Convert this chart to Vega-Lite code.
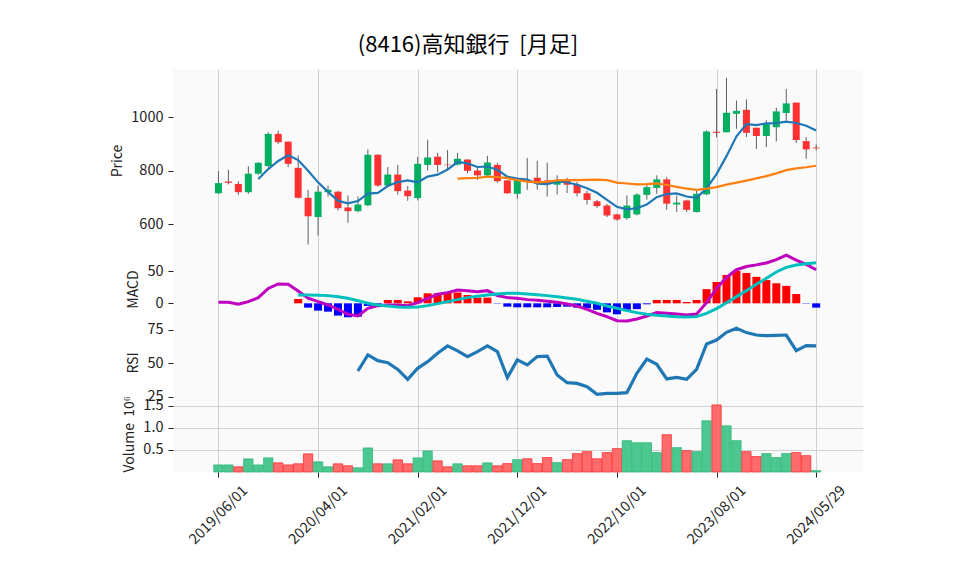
{
 "$schema": "https://vega.github.io/schema/vega-lite/v6.json",
 "width": 690,
 "height": 403,
 "autosize": {"type": "none"},
 "padding": {"left": 173, "top": 69, "right": 95, "bottom": 103},
 "background": "#ffffff",
 "title": {"text": "(8416)高知銀行\u00a0\u00a0[月足]", "fontSize": 22, "fontWeight": "normal", "font": "Noto Sans CJK JP", "color": "#000000", "frame": "group", "anchor": "middle", "dx": -50, "offset": 12},
 "config": {
  "font": "Noto Sans CJK JP",
  "view": {"fill": "#fafafa", "stroke": null},
  "axis": {"domain": false, "grid": true, "gridColor": "#d0d0d0", "gridWidth": 1, "tickColor": "#222222", "tickSize": 5, "labelPadding": 5, "labelFontSize": 14.5, "labelColor": "#222222", "titleFontSize": 14, "titleFontWeight": "normal", "titleColor": "#222222", "titlePadding": 6, "labelFont": "Noto Sans CJK JP", "titleFont": "Noto Sans CJK JP"}
 },
 "data": {"values": [
  {"i":0,"date":"2019/06/01","o":716,"h":799,"l":714,"c":754,"vol":160000,"vdir":"up","ma5":null,"ma25":null,"macd":1.5,"sig":null,"hist":null,"rsi":null},
  {"i":1,"date":"2019/07/01","o":760,"h":804,"l":749,"c":755,"vol":160000,"vdir":"up","ma5":null,"ma25":null,"macd":1.5,"sig":null,"hist":null,"rsi":null},
  {"i":2,"date":"2019/08/01","o":751,"h":761,"l":710,"c":720,"vol":117000,"vdir":"down","ma5":null,"ma25":null,"macd":-1.5,"sig":null,"hist":null,"rsi":null},
  {"i":3,"date":"2019/09/01","o":720,"h":817,"l":714,"c":789,"vol":297000,"vdir":"up","ma5":null,"ma25":null,"macd":2.6,"sig":null,"hist":null,"rsi":null},
  {"i":4,"date":"2019/10/01","o":789,"h":832,"l":785,"c":830,"vol":160000,"vdir":"up","ma5":769.6,"ma25":null,"macd":8.8,"sig":null,"hist":null,"rsi":null},
  {"i":5,"date":"2019/11/01","o":818,"h":944,"l":812,"c":938,"vol":320000,"vdir":"up","ma5":806.4,"ma25":null,"macd":23,"sig":null,"hist":null,"rsi":null},
  {"i":6,"date":"2019/12/01","o":938,"h":950,"l":900,"c":907,"vol":207000,"vdir":"down","ma5":836.8,"ma25":null,"macd":30,"sig":null,"hist":null,"rsi":null},
  {"i":7,"date":"2020/01/01","o":909,"h":910,"l":814,"c":826,"vol":160000,"vdir":"down","ma5":858,"ma25":null,"macd":29.4,"sig":null,"hist":null,"rsi":null},
  {"i":8,"date":"2020/02/01","o":811,"h":857,"l":696,"c":699,"vol":185000,"vdir":"down","ma5":840,"ma25":null,"macd":19,"sig":12.9,"hist":6.7,"rsi":null},
  {"i":9,"date":"2020/03/01","o":699,"h":729,"l":524,"c":630,"vol":410000,"vdir":"down","ma5":800,"ma25":null,"macd":8,"sig":12.9,"hist":-6.7,"rsi":null},
  {"i":10,"date":"2020/04/01","o":627,"h":745,"l":558,"c":722,"vol":230000,"vdir":"up","ma5":756.8,"ma25":null,"macd":2.6,"sig":12.4,"hist":-11.3,"rsi":null},
  {"i":11,"date":"2020/05/01","o":720,"h":745,"l":703,"c":729,"vol":117000,"vdir":"up","ma5":721.2,"ma25":null,"macd":-2.6,"sig":11.9,"hist":-12.9,"rsi":null},
  {"i":12,"date":"2020/06/01","o":722,"h":725,"l":651,"c":660,"vol":185000,"vdir":"down","ma5":688,"ma25":null,"macd":-9.3,"sig":10.3,"hist":-19,"rsi":null},
  {"i":13,"date":"2020/07/01","o":663,"h":708,"l":606,"c":649,"vol":140000,"vdir":"down","ma5":678,"ma25":null,"macd":-17,"sig":7.7,"hist":-21.6,"rsi":null},
  {"i":14,"date":"2020/08/01","o":649,"h":704,"l":645,"c":674,"vol":95000,"vdir":"up","ma5":686.8,"ma25":null,"macd":-19.6,"sig":4.1,"hist":-20.6,"rsi":44.3},
  {"i":15,"date":"2020/09/01","o":671,"h":880,"l":668,"c":860,"vol":545000,"vdir":"up","ma5":714.4,"ma25":null,"macd":-7.7,"sig":0,"hist":-4,"rsi":56.2},
  {"i":16,"date":"2020/10/01","o":860,"h":862,"l":740,"c":745,"vol":185000,"vdir":"down","ma5":717.6,"ma25":null,"macd":-3.6,"sig":-2.6,"hist":-3,"rsi":52},
  {"i":17,"date":"2020/11/01","o":745,"h":814,"l":740,"c":786,"vol":185000,"vdir":"up","ma5":742.8,"ma25":null,"macd":-2.6,"sig":-4.1,"hist":5.2,"rsi":50.5},
  {"i":18,"date":"2020/12/01","o":786,"h":822,"l":711,"c":724,"vol":275000,"vdir":"down","ma5":757.8,"ma25":null,"macd":-2.6,"sig":-5.7,"hist":5.2,"rsi":45.5},
  {"i":19,"date":"2021/01/01","o":726,"h":743,"l":688,"c":705,"vol":185000,"vdir":"down","ma5":764,"ma25":null,"macd":-3.6,"sig":-6.2,"hist":3,"rsi":38.1},
  {"i":20,"date":"2021/02/01","o":698,"h":852,"l":689,"c":826,"vol":320000,"vdir":"up","ma5":757.2,"ma25":null,"macd":1,"sig":-5.7,"hist":9.3,"rsi":46.3},
  {"i":21,"date":"2021/03/01","o":822,"h":916,"l":801,"c":850,"vol":477000,"vdir":"up","ma5":778.2,"ma25":null,"macd":7.7,"sig":-3.6,"hist":15.5,"rsi":51.2},
  {"i":22,"date":"2021/04/01","o":853,"h":867,"l":795,"c":822,"vol":252000,"vdir":"down","ma5":785.4,"ma25":null,"macd":14,"sig":-0.5,"hist":15.5,"rsi":57.4},
  {"i":23,"date":"2021/05/01","o":823,"h":878,"l":801,"c":821,"vol":117000,"vdir":"down","ma5":804.8,"ma25":null,"macd":16.5,"sig":2.6,"hist":16.5,"rsi":62.9},
  {"i":24,"date":"2021/06/01","o":823,"h":867,"l":820,"c":845,"vol":185000,"vdir":"up","ma5":832.8,"ma25":770.6,"macd":20.6,"sig":5.7,"hist":16.8,"rsi":59.2},
  {"i":25,"date":"2021/07/01","o":842,"h":843,"l":791,"c":800,"vol":140000,"vdir":"down","ma5":827.6,"ma25":772.5,"macd":19.6,"sig":8.8,"hist":12.9,"rsi":55},
  {"i":26,"date":"2021/08/01","o":801,"h":813,"l":766,"c":783,"vol":140000,"vdir":"down","ma5":814.2,"ma25":773.6,"macd":18,"sig":10.8,"hist":8.8,"rsi":58.7},
  {"i":27,"date":"2021/09/01","o":783,"h":856,"l":776,"c":831,"vol":207000,"vdir":"up","ma5":816,"ma25":778,"macd":19.6,"sig":12.9,"hist":8.8,"rsi":62.9},
  {"i":28,"date":"2021/10/01","o":822,"h":830,"l":755,"c":761,"vol":140000,"vdir":"down","ma5":804,"ma25":776.9,"macd":12,"sig":14.4,"hist":-0.5,"rsi":58.7},
  {"i":29,"date":"2021/11/01","o":764,"h":766,"l":714,"c":716,"vol":190000,"vdir":"down","ma5":778.2,"ma25":772.4,"macd":8.8,"sig":15.5,"hist":-5.2,"rsi":39.4},
  {"i":30,"date":"2021/12/01","o":714,"h":770,"l":695,"c":764,"vol":280000,"vdir":"up","ma5":771,"ma25":765.4,"macd":7.7,"sig":15.5,"hist":-6.2,"rsi":52.5},
  {"i":31,"date":"2022/01/01","o":766,"h":848,"l":729,"c":763,"vol":300000,"vdir":"down","ma5":767,"ma25":759.6,"macd":5.7,"sig":14.4,"hist":-6.2,"rsi":48.8},
  {"i":32,"date":"2022/02/01","o":774,"h":838,"l":729,"c":755,"vol":190000,"vdir":"down","ma5":751.8,"ma25":756.8,"macd":4.6,"sig":13.4,"hist":-6.2,"rsi":55},
  {"i":33,"date":"2022/03/01","o":764,"h":830,"l":704,"c":754,"vol":327000,"vdir":"down","ma5":750.4,"ma25":759,"macd":3.1,"sig":11.9,"hist":-6.2,"rsi":55.4},
  {"i":34,"date":"2022/04/01","o":748,"h":783,"l":712,"c":766,"vol":214000,"vdir":"up","ma5":760.4,"ma25":764.4,"macd":1.5,"sig":10.3,"hist":-5.7,"rsi":41.3},
  {"i":35,"date":"2022/05/01","o":764,"h":774,"l":717,"c":748,"vol":280000,"vdir":"down","ma5":757.2,"ma25":765.5,"macd":-1,"sig":8.2,"hist":-5.2,"rsi":35.6},
  {"i":36,"date":"2022/06/01","o":748,"h":758,"l":704,"c":716,"vol":417000,"vdir":"down","ma5":747.8,"ma25":765,"macd":-4.1,"sig":6.2,"hist":-6.7,"rsi":35.1},
  {"i":37,"date":"2022/07/01","o":716,"h":726,"l":674,"c":691,"vol":462000,"vdir":"down","ma5":735,"ma25":766.2,"macd":-9.3,"sig":3.1,"hist":-7.7,"rsi":32.7},
  {"i":38,"date":"2022/08/01","o":686,"h":691,"l":661,"c":668,"vol":300000,"vdir":"down","ma5":717.8,"ma25":767,"macd":-15.5,"sig":0,"hist":-10,"rsi":27},
  {"i":39,"date":"2022/09/01","o":670,"h":676,"l":627,"c":633,"vol":440000,"vdir":"down","ma5":691.2,"ma25":765.3,"macd":-20.6,"sig":-4.1,"hist":-14,"rsi":27.7},
  {"i":40,"date":"2022/10/01","o":637,"h":639,"l":614,"c":618,"vol":530000,"vdir":"down","ma5":665.2,"ma25":755.6,"macd":-26.8,"sig":-7.7,"hist":-17,"rsi":27.7},
  {"i":41,"date":"2022/11/01","o":623,"h":708,"l":617,"c":670,"vol":710000,"vdir":"up","ma5":656,"ma25":752.6,"macd":-27.3,"sig":-11.3,"hist":-10,"rsi":28.2},
  {"i":42,"date":"2022/12/01","o":637,"h":716,"l":633,"c":711,"vol":664000,"vdir":"up","ma5":660,"ma25":749.6,"macd":-24.2,"sig":-14.4,"hist":-9,"rsi":42.6},
  {"i":43,"date":"2023/01/01","o":710,"h":751,"l":692,"c":739,"vol":664000,"vdir":"up","ma5":674.2,"ma25":750.2,"macd":-19.6,"sig":-17,"hist":-1.5,"rsi":53.2},
  {"i":44,"date":"2023/02/01","o":736,"h":783,"l":714,"c":768,"vol":440000,"vdir":"up","ma5":701.2,"ma25":752.8,"macd":-14.4,"sig":-18.6,"hist":5.2,"rsi":49.3},
  {"i":45,"date":"2023/03/01","o":768,"h":776,"l":654,"c":677,"vol":845000,"vdir":"down","ma5":713,"ma25":746.8,"macd":-15.5,"sig":-19.6,"hist":5.2,"rsi":38.4},
  {"i":46,"date":"2023/04/01","o":674,"h":708,"l":646,"c":681,"vol":552000,"vdir":"up","ma5":715.2,"ma25":740,"macd":-16.5,"sig":-20.6,"hist":5.2,"rsi":39.6},
  {"i":47,"date":"2023/05/01","o":689,"h":692,"l":646,"c":654,"vol":484000,"vdir":"down","ma5":703.8,"ma25":733.3,"macd":-18,"sig":-21.1,"hist":2,"rsi":38.1},
  {"i":48,"date":"2023/06/01","o":646,"h":726,"l":644,"c":714,"vol":462000,"vdir":"up","ma5":698.8,"ma25":729,"macd":-16.5,"sig":-20.6,"hist":5.2,"rsi":45.5},
  {"i":49,"date":"2023/07/01","o":712,"h":951,"l":708,"c":947,"vol":1160000,"vdir":"up","ma5":734.6,"ma25":733.1,"macd":1,"sig":-15.5,"hist":22,"rsi":64.4},
  {"i":50,"date":"2023/08/01","o":946,"h":1106,"l":925,"c":942,"vol":1520000,"vdir":"down","ma5":787.6,"ma25":738.8,"macd":23,"sig":-8.2,"hist":33,"rsi":67.3},
  {"i":51,"date":"2023/09/01","o":944,"h":1148,"l":944,"c":1017,"vol":1047000,"vdir":"up","ma5":854.8,"ma25":748.2,"macd":40,"sig":1,"hist":43.8,"rsi":73},
  {"i":52,"date":"2023/10/01","o":1013,"h":1063,"l":957,"c":1024,"vol":710000,"vdir":"up","ma5":928.8,"ma25":755.9,"macd":52,"sig":10.3,"hist":50,"rsi":76},
  {"i":53,"date":"2023/11/01","o":1028,"h":1067,"l":926,"c":942,"vol":462000,"vdir":"down","ma5":974.4,"ma25":763.1,"macd":57,"sig":19.6,"hist":47,"rsi":72.8},
  {"i":54,"date":"2023/12/01","o":961,"h":961,"l":882,"c":930,"vol":350000,"vdir":"down","ma5":971,"ma25":771.7,"macd":59.5,"sig":29.4,"hist":41,"rsi":71},
  {"i":55,"date":"2024/01/01","o":930,"h":989,"l":889,"c":974,"vol":417000,"vdir":"up","ma5":977.4,"ma25":780.1,"macd":62.5,"sig":38.7,"hist":36,"rsi":70.5},
  {"i":56,"date":"2024/02/01","o":963,"h":1036,"l":910,"c":1022,"vol":327000,"vdir":"up","ma5":978.4,"ma25":790.4,"macd":67.5,"sig":48.5,"hist":31,"rsi":70.8},
  {"i":57,"date":"2024/03/01","o":1016,"h":1106,"l":988,"c":1052,"vol":417000,"vdir":"up","ma5":984,"ma25":802.3,"macd":74.5,"sig":55.7,"hist":27,"rsi":71},
  {"i":58,"date":"2024/04/01","o":1055,"h":1055,"l":904,"c":915,"vol":440000,"vdir":"down","ma5":978.6,"ma25":808.8,"macd":67,"sig":59.3,"hist":14.4,"rsi":59.4},
  {"i":59,"date":"2024/05/01","o":911,"h":926,"l":845,"c":880,"vol":370000,"vdir":"down","ma5":968.6,"ma25":813.3,"macd":60.3,"sig":61.3,"hist":-0.5,"rsi":63.1},
  {"i":60,"date":"2024/05/29","o":887,"h":899,"l":876,"c":884,"vol":30000,"vdir":"up","ma5":950.6,"ma25":818.8,"macd":52,"sig":62.9,"hist":-6.7,"rsi":62.9}
 ]},
 "encoding": {
  "x": {"field": "i", "type": "quantitative",
   "scale": {"domain": [-4.06, 64.2], "nice": false, "zero": false},
   "axis": {"values": [0,10,20,30,40,50,60], "labelExpr": "['2019/06/01','2020/04/01','2021/02/01','2021/12/01','2022/10/01','2023/08/01','2024/05/29'][round(datum.value/10)]", "labelAngle": -45, "labelAlign": "center", "labelBaseline": "middle", "labelPadding": 38, "title": null, "labelOverlap": false, "labelFlush": false, "labelBound": false}}
 },
 "layer": [
  {"mark": {"type": "bar", "orient": "vertical", "width": 9.3, "strokeWidth": 0.8},
   "encoding": {
    "y": {"field": "vol", "type": "quantitative", "scale": {"domain": [0, 9136600], "range": [403, 0], "nice": false, "zero": false},
     "axis": {"orient": "left", "values": [500000, 1000000, 1500000], "labelExpr": "format(datum.value/1000000, '.1f')", "title": "Volume\u00a0\u00a010⁶", "titleAnchor": "start"}},
    "y2": {"datum": 0},
    "color": {"condition": {"test": "datum.vdir == 'up'", "value": "#4dc790"}, "value": "#fd6b6c"},
    "stroke": {"condition": {"test": "datum.vdir == 'up'", "value": "#2fb87a"}, "value": "#fe3032"}
   }},
  {"mark": {"type": "bar", "orient": "vertical", "width": 8},
   "encoding": {
    "y": {"field": "hist", "type": "quantitative", "scale": {"domain": [-35.1, 79.4], "range": [257, 183], "nice": false, "zero": false},
     "axis": {"orient": "left", "values": [0, 50], "title": "MACD"}},
    "y2": {"datum": 0},
    "color": {"condition": {"test": "datum.hist > 0", "value": "#ff0000"}, "value": "#0000ff"}
   }},
  {"mark": {"type": "line", "color": "#bf00bf", "strokeWidth": 3},
   "encoding": {
    "y": {"field": "macd", "type": "quantitative", "scale": {"domain": [-35.1, 79.4], "range": [257, 183], "nice": false, "zero": false}, "axis": null}
   }},
  {"mark": {"type": "line", "color": "#00bfbf", "strokeWidth": 3},
   "encoding": {
    "y": {"field": "sig", "type": "quantitative", "scale": {"domain": [-35.1, 79.4], "range": [257, 183], "nice": false, "zero": false}, "axis": null}
   }},
  {"mark": {"type": "line", "color": "#1f77b4", "strokeWidth": 3.2},
   "encoding": {
    "y": {"field": "rsi", "type": "quantitative", "scale": {"domain": [23.5, 77.7], "range": [330, 257], "nice": false, "zero": false},
     "axis": {"orient": "left", "values": [25, 50, 75], "title": "RSI"}}
   }},
  {"mark": {"type": "rule", "color": "#606060", "strokeWidth": 1},
   "encoding": {
    "y": {"field": "l", "type": "quantitative", "scale": {"domain": [496.4, 1180.6], "range": [183, 0], "nice": false, "zero": false},
     "axis": {"orient": "left", "values": [600, 800, 1000], "format": "d", "title": "Price"}},
    "y2": {"field": "h"}
   }},
  {"mark": {"type": "bar", "orient": "vertical", "width": 7},
   "encoding": {
    "y": {"field": "o", "type": "quantitative", "scale": {"domain": [496.4, 1180.6], "range": [183, 0], "nice": false, "zero": false}, "axis": null},
    "y2": {"field": "c"},
    "color": {"condition": {"test": "datum.c >= datum.o", "value": "#00b060"}, "value": "#fe3032"}
   }},
  {"mark": {"type": "line", "color": "#1f77b4", "strokeWidth": 2.2},
   "encoding": {
    "y": {"field": "ma5", "type": "quantitative", "scale": {"domain": [496.4, 1180.6], "range": [183, 0], "nice": false, "zero": false}, "axis": null}
   }},
  {"mark": {"type": "line", "color": "#ff7f0e", "strokeWidth": 2.2},
   "encoding": {
    "y": {"field": "ma25", "type": "quantitative", "scale": {"domain": [496.4, 1180.6], "range": [183, 0], "nice": false, "zero": false}, "axis": null}
   }}
 ],
 "resolve": {"scale": {"y": "independent"}, "axis": {"y": "independent"}}
}
